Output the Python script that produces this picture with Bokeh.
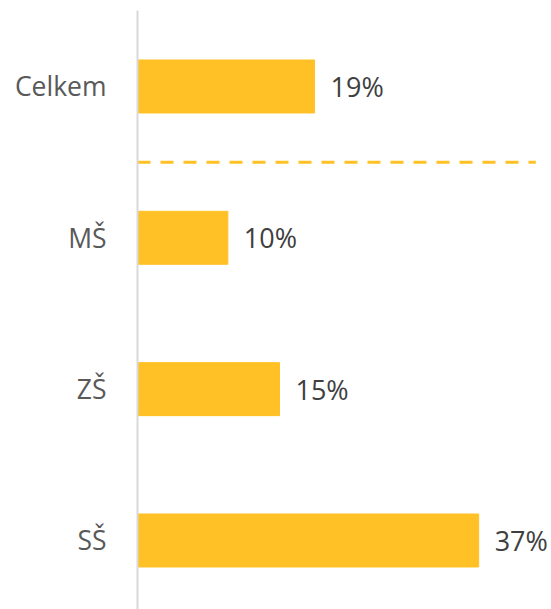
from bokeh.plotting import figure
from bokeh.models import ColumnDataSource, Range1d, FixedTicker
from bokeh.core.properties import value
from bokeh.embed import file_html
from bokeh.resources import INLINE

categories = ["Celkem", "MŠ", "ZŠ", "SŠ"]
values = [19.2, 9.8, 15.4, 37.0]
labels = ["19%", "10%", "15%", "37%"]

BAR = "#FFC125"
FONT = "Open Sans"

n = len(categories)
ypos = [n - 1 - i for i in range(n)]

src = ColumnDataSource(dict(y=ypos, v=values, lab=labels))

p = figure(width=551, height=609, output_backend="svg", toolbar_location=None,
           x_range=Range1d(0, 44.9), y_range=Range1d(-0.456, n - 1 + 0.502),
           min_border_left=137, min_border_right=0, min_border_top=10, min_border_bottom=0)

p.hbar(y="y", right="v", left=0, height=0.35, color=BAR, source=src)
p.text(x="v", y="y", text="lab", source=src, x_offset=16, text_baseline="middle",
       text_align="left", text_font=value(FONT), text_font_size="27px", text_color="#404040")

# separator between total and groups
p.segment(x0=0, x1=43.2, y0=n - 1.5, y1=n - 1.5, line_color=BAR, line_width=3, line_dash="13 10")

p.xaxis.visible = False
p.xgrid.visible = False
p.ygrid.visible = False
p.outline_line_color = None

ya = p.yaxis[0]
ya.ticker = FixedTicker(ticks=ypos)
ya.major_label_overrides = {yy: c for yy, c in zip(ypos, categories)}
ya.axis_line_color = "#D9D9D9"
ya.axis_line_width = 2
ya.major_tick_line_color = None
ya.minor_tick_line_color = None
ya.major_label_text_font = FONT
ya.major_label_text_font_size = "26.5px"
ya.major_label_text_color = "#595959"
ya.major_label_standoff = 25

open("out.html", "w").write(file_html(p, INLINE))
